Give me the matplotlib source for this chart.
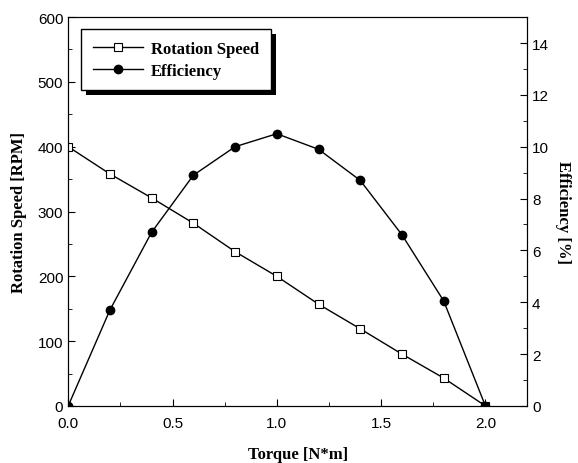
import matplotlib.pyplot as plt
from matplotlib.patches import Rectangle
from matplotlib.transforms import IdentityTransform
from matplotlib.ticker import MultipleLocator

torque = [0.0, 0.2, 0.4, 0.6, 0.8, 1.0, 1.2, 1.4, 1.6, 1.8, 2.0]
speed = [400, 358, 321, 282, 238, 200, 157, 119, 80, 43, 0]
efficiency = [0.0, 3.7, 6.7, 8.9, 10.0, 10.5, 9.9, 8.7, 6.6, 4.05, 0.0]

serif = {'family': 'Liberation Serif', 'weight': 'bold', 'size': 12}
plt.rcParams['font.family'] = 'Liberation Sans'

fig, ax = plt.subplots(figsize=(5.78, 4.64), dpi=100)
fig.subplots_adjust(left=0.118, right=0.912, top=0.961, bottom=0.123)
ax2 = ax.twinx()

l1, = ax.plot(torque, speed, color='black', lw=1, marker='s', ms=6,
              mfc='white', mec='black', mew=0.8, label='Rotation Speed')
l2, = ax2.plot(torque, efficiency, color='black', lw=1, marker='o', ms=6,
               mfc='black', mec='black', label='Efficiency')

ax.set_xlim(0, 2.2)
ax.set_ylim(0, 600)
ax2.set_ylim(0, 15)

ax.xaxis.set_major_locator(MultipleLocator(0.5))
ax.xaxis.set_minor_locator(MultipleLocator(0.25))
ax.yaxis.set_major_locator(MultipleLocator(100))
ax.yaxis.set_minor_locator(MultipleLocator(50))
ax2.yaxis.set_major_locator(MultipleLocator(2))
ax2.yaxis.set_minor_locator(MultipleLocator(1))

ax.xaxis.set_major_formatter(plt.FormatStrFormatter('%.1f'))

ax.tick_params(axis='both', which='both', direction='in', labelsize=11,
               top=False, right=False)
ax.tick_params(axis='x', pad=7)
ax.tick_params(which='major', length=5)
ax.tick_params(which='minor', length=3)
ax2.tick_params(axis='y', which='both', direction='in', labelsize=11)
ax2.tick_params(which='major', length=5)
ax2.tick_params(which='minor', length=3)

ax.set_xlabel('Torque [N*m]', fontdict=serif, labelpad=12)
ax.set_ylabel('Rotation Speed [RPM]', fontdict=serif, labelpad=8)
ax2.set_ylabel('Efficiency [%]', fontdict=serif, rotation=270, labelpad=16)

leg = ax2.legend(handles=[l1, l2], loc='upper left',
                 bbox_to_anchor=(0.01, 0.99),
                 prop={'family': 'Liberation Serif', 'weight': 'bold', 'size': 12},
                 frameon=True, fancybox=False, shadow=False,
                 edgecolor='black', framealpha=1, borderpad=0.7,
                 handlelength=3.0, handletextpad=0.5, labelspacing=0.35)
leg.get_frame().set_linewidth(1)
leg.set_zorder(6)

# solid black drop shadow behind the legend
fig.canvas.draw()
bb = leg.get_window_extent()
shadow = Rectangle((bb.x0 + 5, bb.y0 - 5), bb.width, bb.height,
                   transform=IdentityTransform(), facecolor='black',
                   edgecolor='none', zorder=5)
ax2.add_artist(shadow)

fig.savefig('out.png', dpi=100)
